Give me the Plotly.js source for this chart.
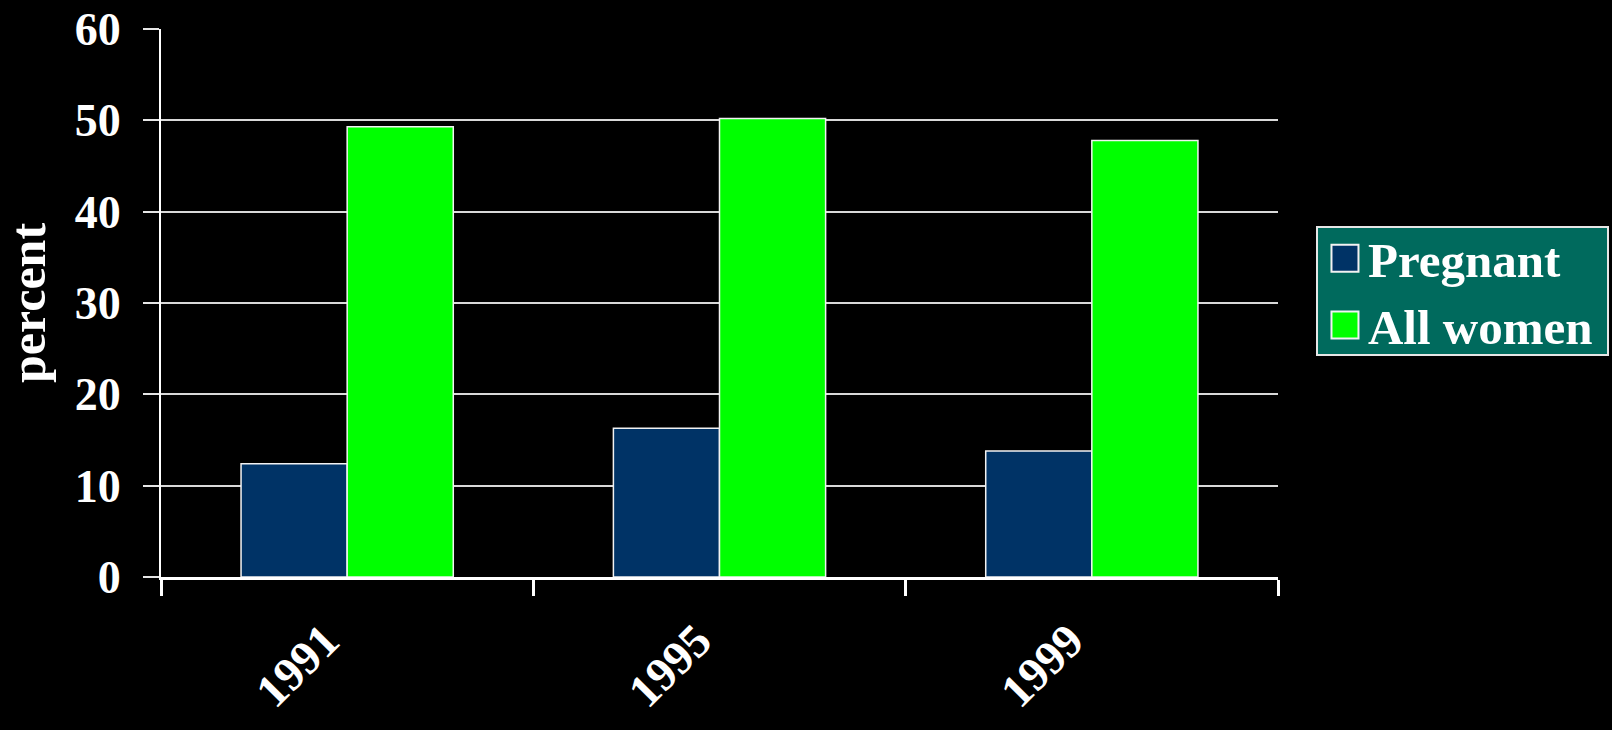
<!DOCTYPE html>
<html>
<head>
<meta charset="utf-8">
<script src="https://cdn.plot.ly/plotly-3.0.1.min.js"></script>
<style>
  html, body { margin: 0; padding: 0; background: #000; }
  #chart { width: 1612px; height: 730px; }
</style>
</head>
<body>
<div id="chart"></div>
<script>
// Survey years on the category axis
const years = ['1991', '1995', '1999'];

// Percent of women, by group
const pregnant = [12.4, 16.3, 13.8];
const allWomen = [49.3, 50.2, 47.8];

const seriesNames = ['Pregnant', 'All women'];
const yTicks = [0, 10, 20, 30, 40, 50, 60];

const serif = 'Liberation Serif, Times New Roman, serif';
const white = '#ffffff';

const traces = [
  {
    type: 'bar',
    name: seriesNames[0],
    x: years,
    y: pregnant,
    marker: { color: '#003366', line: { color: '#f2f2f2', width: 1.5 } }
  },
  {
    type: 'bar',
    name: seriesNames[1],
    x: years,
    y: allWomen,
    marker: { color: '#00ff00', line: { color: '#f2f2f2', width: 1.5 } }
  }
];

const layout = {
  width: 1612,
  height: 730,
  paper_bgcolor: '#000000',
  plot_bgcolor: '#000000',
  margin: { l: 161, r: 334, t: 29, b: 153 },
  barmode: 'group',
  bargap: 0.43,
  bargroupgap: 0,
  showlegend: true,
  font: { family: serif, color: white, weight: 700 },
  xaxis: {
    type: 'category',
    tickvals: years,
    ticktext: years,
    tickson: 'boundaries',
    ticks: 'outside',
    ticklen: 16,
    tickwidth: 3,
    tickcolor: white,
    showline: true,
    linecolor: white,
    linewidth: 3,
    showgrid: false,
    tickangle: -45,
    ticklabelstandoff: 14,
    ticklabelshift: -22,
    tickfont: { family: serif, size: 47, color: white, weight: 700 }
  },
  yaxis: {
    range: [0, 60],
    tickvals: yTicks,
    ticktext: yTicks.map(String),
    ticks: 'outside',
    ticklen: 16,
    tickwidth: 2,
    tickcolor: '#e6e6e6',
    showline: true,
    linecolor: white,
    linewidth: 2,
    showgrid: true,
    gridcolor: '#d9d9d9',
    gridwidth: 2,
    zeroline: false,
    ticklabelstandoff: 13,
    tickfont: { family: serif, size: 46, color: white, weight: 700 },
    title: {
      text: 'percent',
      standoff: 23,
      font: { family: serif, size: 50, color: white, weight: 700 }
    }
  },
  legend: {
    x: 1.034,
    y: 0.6405,
    xanchor: 'left',
    yanchor: 'top',
    bgcolor: '#006a5d',
    bordercolor: '#e6e6e6',
    borderwidth: 2,
    traceorder: 'normal',
    itemwidth: 40,
    font: { family: serif, size: 49, color: white, weight: 700 }
  }
};

Plotly.newPlot('chart', traces, layout, { staticPlot: true, displayModeBar: false }).then(function (gd) {
  const legend = gd.querySelector('.legend');
  // Larger square swatches to suit the large legend text
  legend.querySelectorAll('.legendpoints path').forEach(function (p) {
    p.setAttribute('d', 'M-13.5,-13.5H13.5V13.5H-13.5Z');
    p.setAttribute('transform', 'translate(27,0)');
    p.style.strokeWidth = '2px';
  });
  // Legend box: lift the entries, trim the bottom padding, widen slightly
  legend.querySelectorAll('.traces').forEach(function (t) {
    const m = /translate\(([-\d.]+),\s*([-\d.]+)\)/.exec(t.getAttribute('transform') || '');
    if (m) t.setAttribute('transform', 'translate(' + m[1] + ',' + (parseFloat(m[2]) - 8) + ')');
  });
  const bg = legend.querySelector('rect.bg');
  if (bg) {
    bg.setAttribute('height', parseFloat(bg.getAttribute('height')) - 18);
    bg.setAttribute('width', parseFloat(bg.getAttribute('width')) + 9);
  }
});
</script>
</body>
</html>
